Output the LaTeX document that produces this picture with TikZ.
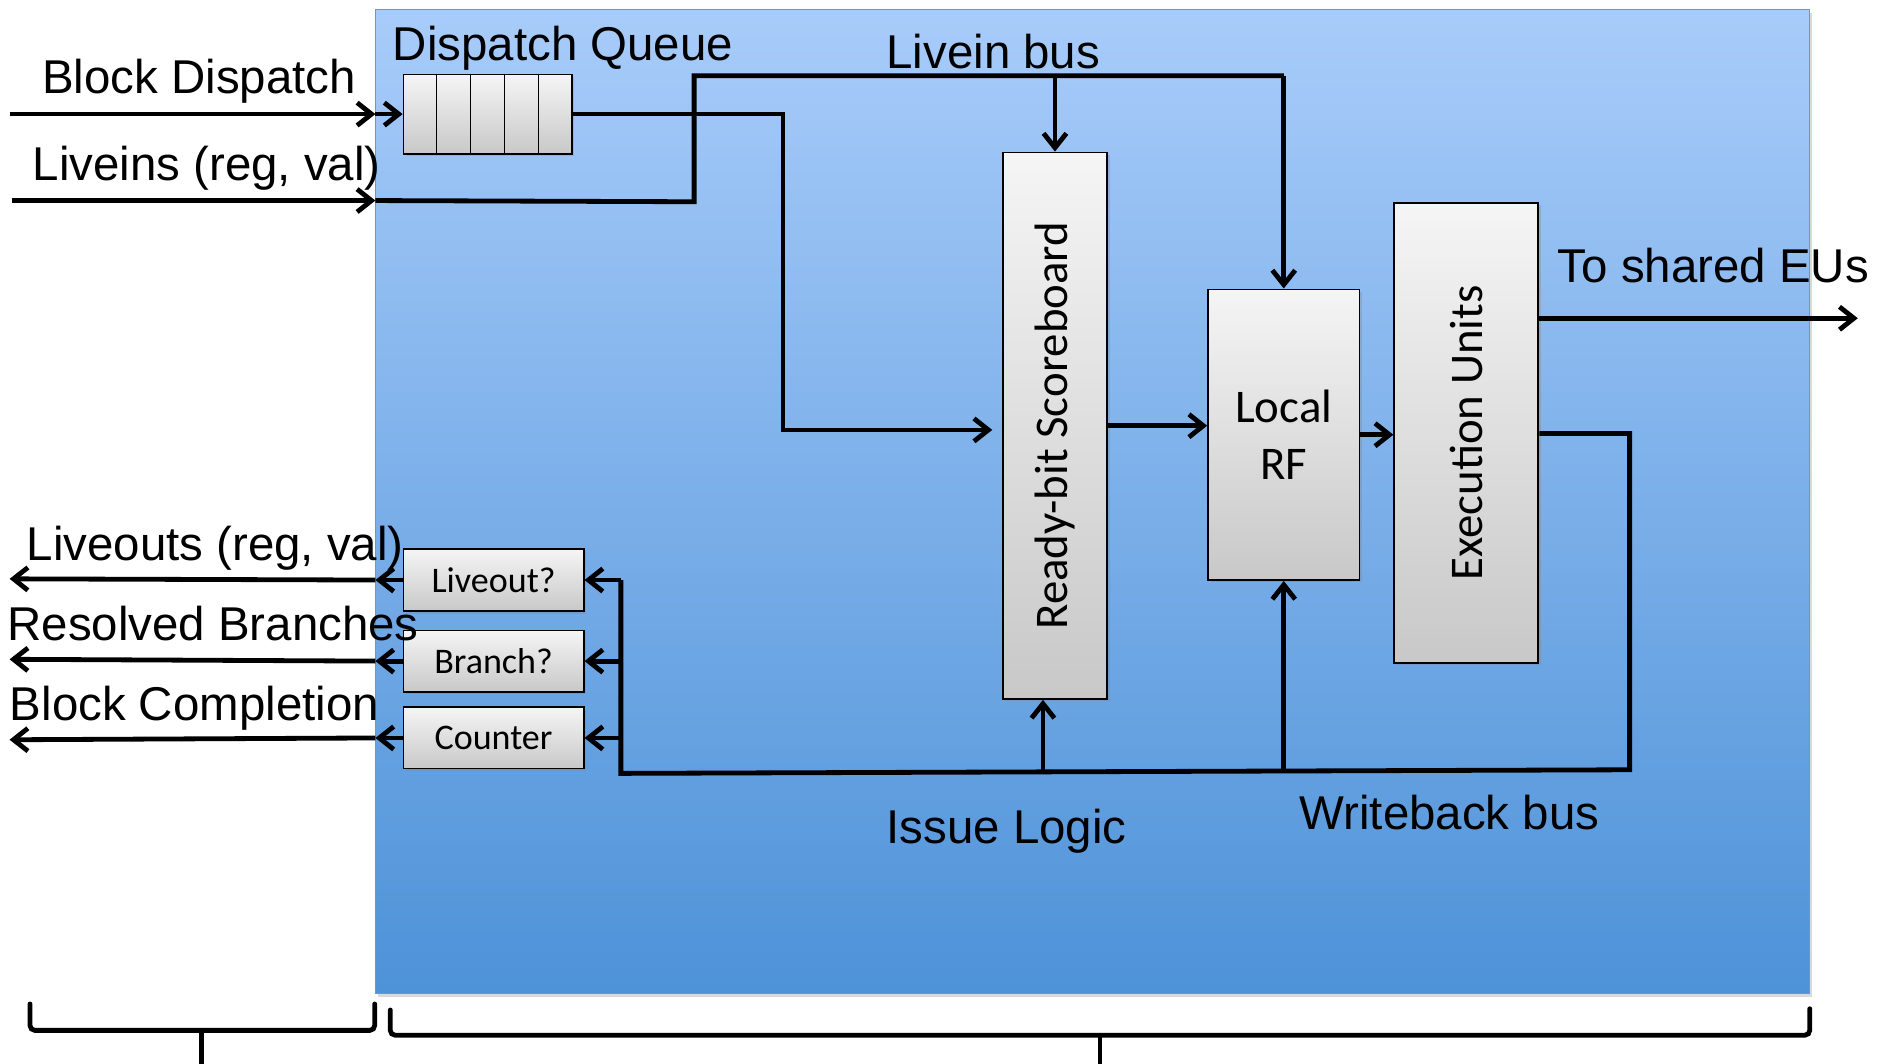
\documentclass[tikz,border=0pt]{standalone}
\usepackage{fontspec}
\usepackage{graphicx}
\setmainfont{Liberation Sans}
\newfontfamily\calibri{Carlito}
\usetikzlibrary{arrows.meta,shadows,calc}

\definecolor{paneltop}{RGB}{168,204,250}
\definecolor{panelbot}{RGB}{78,146,216}
\definecolor{panelrim}{RGB}{104,150,208}
\definecolor{boxtop}{RGB}{245,245,245}
\definecolor{boxbot}{RGB}{200,200,200}

\tikzset{
  wire/.style={line width=4pt},
  arrow/.style={wire, -{Straight Barb[length=12pt,width=19pt]}},
  panel/.style={draw=panelrim, line width=0.8pt, top color=paneltop, bottom color=panelbot,
    inner sep=0pt, drop shadow={shadow xshift=2pt,shadow yshift=-3pt,opacity=0.3}},
  unit/.style={draw=black, line width=1.5pt, top color=boxtop, bottom color=boxbot,
    inner sep=0pt, drop shadow={shadow xshift=2pt,shadow yshift=-2pt,opacity=0.3},
    font=\calibri\fontsize{39}{47}\selectfont, align=center},
  smallunit/.style={unit, minimum width=150pt, font=\calibri\fontsize{30}{34}\selectfont},
  label/.style={font=\fontsize{39.5}{45}\selectfont, inner sep=0pt, anchor=base west},
  brace/.style={line width=4pt, rounded corners=4pt, line cap=round},
}

\begin{document}
\begin{tikzpicture}[x=1pt,y=-1pt]
\useasboundingbox (0,0) rectangle (1568,886);

% core panel
\node[panel, minimum width=1194pt, minimum height=819pt] (panel) at (910,417.5) {};

% functional units
\node[unit, minimum width=140pt, minimum height=66pt] (q) at (406,95) {};
\foreach \i in {1,...,4}
  \draw[line width=1.2pt] ($(q.north west)!\i/5!(q.north east)$) -- ($(q.south west)!\i/5!(q.south east)$);
\node[unit, minimum width=87pt, minimum height=455pt] (sb) at (878.5,354.5) {\rotatebox{90}{Ready-bit Scoreboard}};
\node[unit, minimum width=126pt, minimum height=242pt] (rf) at (1069,362) {Local\\RF};
\node[unit, minimum width=120pt, minimum height=383pt] (eu) at (1221,360.5) {\rotatebox{90}{Execution Units}};
\node[smallunit, minimum height=52pt] (lo) at (411,483) {Liveout?};
\node[smallunit, minimum height=51pt] (br) at (411,550.5) {Branch?};
\node[smallunit, minimum height=51pt] (ct) at (411,614.5) {Counter};

% labels
\node[label] (lbBD) at (35,78) {Block Dispatch};
\node[label] (lbLI) at (27,150) {Liveins (reg, val)};
\node[label] (lbDQ) at (327,50) {Dispatch Queue};
\node[label] (lbLB) at (738,57) {Livein bus};
\node[label] (lbTS) at (1297,235) {To shared EUs};
\node[label] (lbLO) at (22,467) {Liveouts (reg, val)};
\node[label] (lbRB) at (6,533) {Resolved Branches};
\node[label] (lbBC) at (8,600) {Block Completion};
\node[label] (lbIL) at (738,702) {Issue Logic};
\node[label] (lbWB) at (1082,691) {Writeback bus};

% inputs
\coordinate (bdIn) at (8,95);
\coordinate (bdEdge) at (bdIn -| panel.west);
\draw[arrow] (bdIn) -- (bdEdge);
\draw[arrow] (bdEdge) -- (q.west);

\coordinate (liIn) at (10,167);
\coordinate (liEdge) at (liIn -| panel.west);
\draw[arrow] (liIn) -- (liEdge);

% livein bus
\coordinate (busA) at (578,168);
\coordinate (busB) at (578,63);
\coordinate (busC) at (1069,63);
\draw[wire] (liEdge) -- (busA) -- (busB) -- (busC);
\draw[arrow] (busC) -- (rf.north);
\draw[arrow] (sb.north |- busB) -- (sb.north);

% dispatch queue to scoreboard
\coordinate (qTurn) at (652,95);
\coordinate (sbIn) at ($(sb.west)+(0,3.5)$);
\draw[arrow, shorten >=8pt] (q.east) -- (qTurn) |- (sbIn);

% pipeline
\draw[arrow] (sb.east) -- (sb.east -| rf.west);
\draw[arrow] (rf.east) -- (rf.east -| eu.west);
\coordinate (shared) at (1547,265);
\draw[arrow] (shared -| eu.east) -- (shared);

% writeback bus
\coordinate (wbTop) at (1357,361);
\coordinate (wbBot) at (1357,641);
\coordinate (wbLeft) at (517,644);
\coordinate (tapTop) at (517,483);
\draw[wire] (wbTop -| eu.east) -- (wbTop) -- (wbBot) -- (wbLeft) -- (tapTop);
\draw[arrow] (rf.south |- wbBot) -- (rf.south);
\coordinate (sbTap) at ($(sb.south)+(-10,0)$);
\draw[arrow] (sbTap |- wbBot) -- (sbTap);
\draw[arrow] (lo.east -| wbLeft) -- (lo.east);
\draw[arrow] (br.east -| wbLeft) -- (br.east);
\draw[arrow] (ct.east -| wbLeft) -- (ct.east);

% outputs
\coordinate (loOut) at (8,482);
\coordinate (brOut) at (8,549);
\coordinate (ctOut) at (8,616);
\draw[arrow] (lo.west) -- (lo.west -| panel.west);
\draw[arrow] (lo.west -| panel.west) -- (loOut);
\draw[arrow] (br.west) -- (br.west -| panel.west);
\draw[arrow] (br.west -| panel.west) -- (brOut);
\draw[arrow] (ct.west) -- (ct.west -| panel.west);
\draw[arrow] (ct.west -| panel.west) -- (ctOut);

% braces
\draw[brace] (25,836) -- (25,858) -- (312,858) -- (312,836);
\draw[brace] (168,858) -- (168,890);
\draw[brace] (325,841) -- (325,862) -- (1507,862) -- (1507,840);
\draw[brace] (916,862) -- (916,890);
\end{tikzpicture}
\end{document}
